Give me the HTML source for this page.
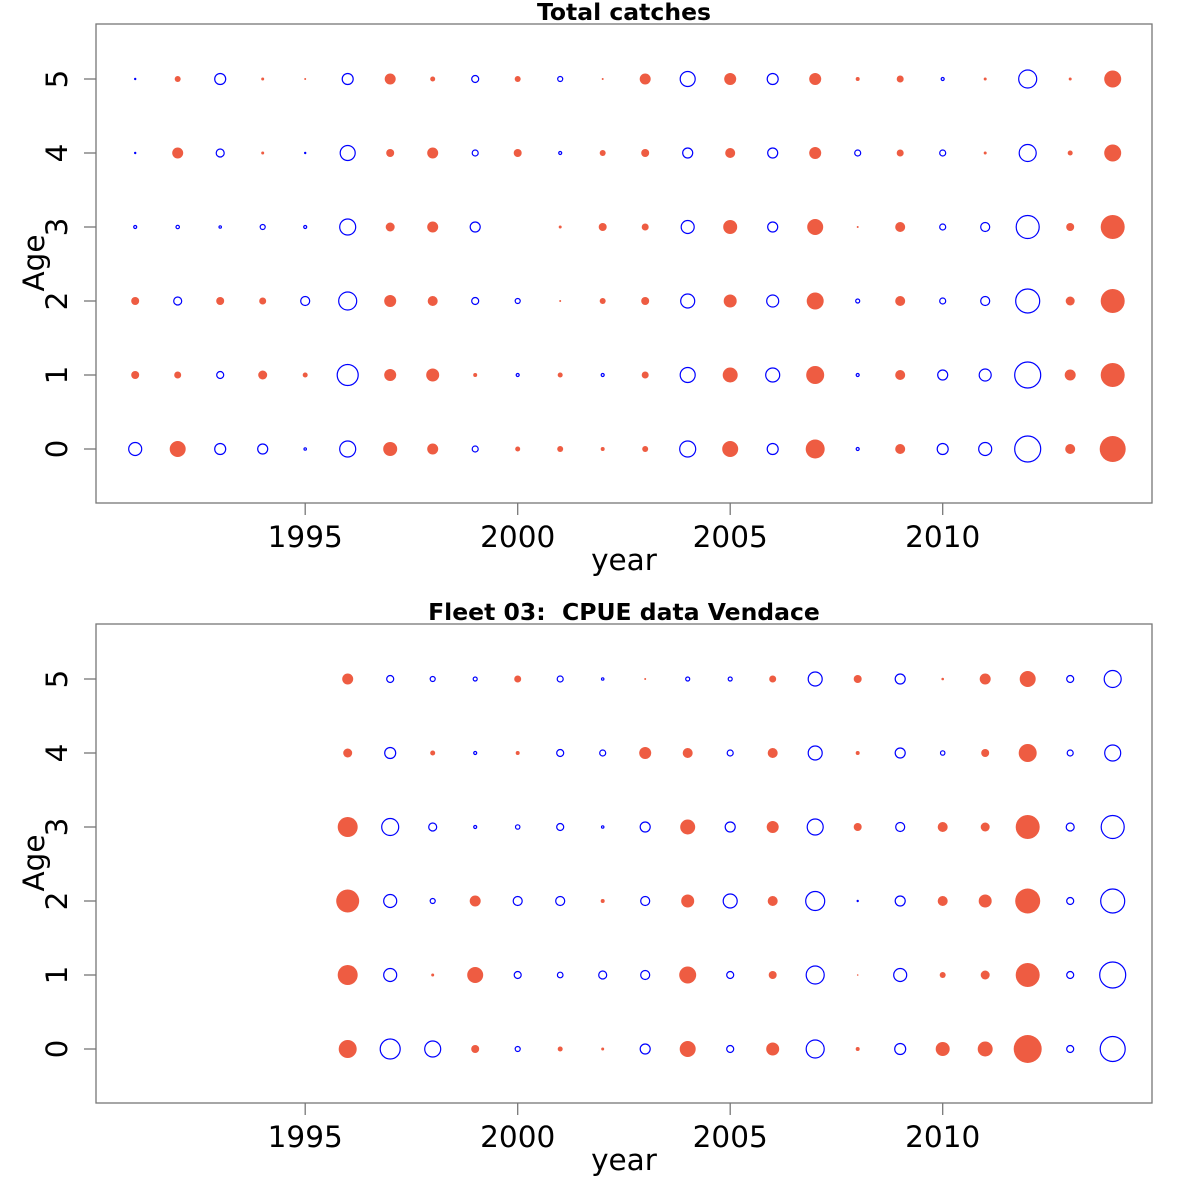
<!DOCTYPE html>
<html><head><meta charset="utf-8"><style>
html,body{margin:0;padding:0;background:#fff;}
svg{display:block;font-family:"DejaVu Sans","Liberation Sans",sans-serif;}
text{white-space:pre;}
</style></head><body>
<svg id="chart" width="1200" height="1200" viewBox="0 0 1200 1200" xmlns="http://www.w3.org/2000/svg"></svg>
<script>
const xTicks = [1995, 2000, 2005, 2010];
const ageTicks = [0, 1, 2, 3, 4, 5];
// Panel 1: Total catches, years 1991..2014 ; values = signed bubble size (positive = red filled, negative = blue open)
const years1 = [1991,1992,1993,1994,1995,1996,1997,1998,1999,2000,2001,2002,2003,2004,2005,2006,2007,2008,2009,2010,2011,2012,2013,2014];
const p1age0 = [-7,8,-6,-5.5,-1.7,-8.5,7,5.5,-3.5,2.5,3,2,3,-8.5,8,-6,9.5,-2,5,-6,-7,-13.5,5,13];
const p1age1 = [4,3.5,-4,4.5,2.5,-11,6,6.5,2,-2,2.5,-2,3.5,-8,7.5,-7.5,9,-2,5,-5.5,-6.5,-13.5,5.5,12];
const p1age2 = [4,-4.5,4,3.5,-5,-9.5,6,5,-4,-3,1,3,4,-7.5,6.5,-6.5,8.5,-2.5,5,-3.5,-5,-12.5,4.5,12];
const p1age3 = [-2,-2.2,-1.7,-3,-2,-8.5,4.5,5.5,-5.5,0,1.5,4,3.5,-7,7,-5.5,8,1,5,-3.5,-5,-12,4,12];
const p1age4 = [-0.8,5.5,-4.5,1.5,-1,-8,4,5.5,-3.5,4,-2,3,4,-5.5,5,-5.5,6,-3.5,3.5,-3.5,1.5,-9,2.5,8.5];
const p1age5 = [-1,3,-6,1.5,1,-6,5.5,2.5,-4,3,-3,1,5.5,-8,6,-6,6,2,3.5,-2,1.5,-9.5,1.5,8.5];
// Panel 2: Fleet 03 CPUE, years 1996..2014
const years2 = [1996,1997,1998,1999,2000,2001,2002,2003,2004,2005,2006,2007,2008,2009,2010,2011,2012,2013,2014];
const p2age0 = [9,-10.5,-8.5,4,-3,2.5,1.5,-5.5,8,-4,6.5,-9.5,2,-6,7,7.5,14,-4,-13];
const p2age1 = [10,-7,1.5,8,-4,-3.3,-4.5,-5,8.5,-4,4,-9.5,0.8,-7,3,4.5,12,-4,-13.5];
const p2age2 = [11.5,-7,-3,5.5,-5,-5,2,-5,6.5,-7.5,5,-10,-1,-5.5,5,6.5,12.5,-4,-12.5];
const p2age3 = [10,-9,-4.5,-2,-2.7,-4,-1.7,-5.5,7.5,-5.5,6,-8.5,4,-5,5,4.5,12,-4.5,-12];
const p2age4 = [4.5,-6,2.5,-2,2,-4,-3.5,6,5,-3.5,5,-7.5,2,-5.5,-2.7,4,9,-3.5,-8.5];
const p2age5 = [5.5,-4,-3,-2.5,3.5,-3.5,-1.7,1,-2.5,-2.5,3.5,-7.5,4,-5.5,1.3,5.5,8,-4,-9];

const NS = "http://www.w3.org/2000/svg";
const svg = document.getElementById('chart');
function mk(tag, attrs, parent) {
  const e = document.createElementNS(NS, tag);
  for (const k in attrs) e.setAttribute(k, attrs[k]);
  (parent || svg).appendChild(e);
  return e;
}
function panel(top, title, years, rows, key) {
  const L = 96, R = 1152, T = top, B = top + 479;
  const xs = y => 135.2 + (y - 1991) * 42.5;
  const ys = a => (T + 425) - a * 74;
  const g = mk('g', {});
  
  
  const box = mk('rect', {x: L, y: T, width: R - L, height: B - T, fill: 'none', stroke: '#777', 'stroke-width': 1.3}, g);
  
  
  const t = mk('text', {x: 624, y: T - 4, 'text-anchor': 'middle', 'font-size': 23.5, 'font-weight': 'bold'}, g);
  t.textContent = title;
  
  
  xTicks.forEach(v => {
    const x = xs(v);
    const tk = mk('line', {x1: x, x2: x, y1: B, y2: B + 12, stroke: '#777', 'stroke-width': 1.3}, g);
    
    
    const lb = mk('text', {x: x, y: B + 44, 'text-anchor': 'middle', 'font-size': 29.5}, g);
    lb.textContent = v;
    
    
  });
  const xt = mk('text', {x: 624, y: B + 67, 'text-anchor': 'middle', 'font-size': 29.5}, g);
  xt.textContent = 'year';
  
  
  ageTicks.forEach(a => {
    const y = ys(a);
    const tk = mk('line', {x1: L - 12, x2: L, y1: y, y2: y, stroke: '#777', 'stroke-width': 1.3}, g);
    
    
    const lb = mk('text', {x: 0, y: 0, 'text-anchor': 'middle', 'font-size': 29.5, transform: 'translate(67,' + y + ') rotate(-90)'}, g);
    lb.textContent = a;
    
    
  });
  const yt = mk('text', {x: 0, y: 0, 'text-anchor': 'middle', 'font-size': 29.5, transform: 'translate(44,' + (T + 239) + ') rotate(-90)'}, g);
  yt.textContent = 'Age';
  
  
  rows.forEach((vals, a) => {
    vals.forEach((v, i) => {
      if (v === 0) return;
      const r = Math.abs(v);
      let c;
      if (v > 0) c = mk('circle', {cx: xs(years[i]), cy: ys(a), r: r, fill: '#EE5C42'}, g);
      else c = mk('circle', {cx: xs(years[i]), cy: ys(a), r: Math.max(r - 0.5, 0.6), fill: 'none', stroke: '#0000FF', 'stroke-width': 1.2}, g);
      
      
    });
  });
}
panel(24, 'Total catches', years1, [p1age0, p1age1, p1age2, p1age3, p1age4, p1age5], 'total-catches');
panel(624, 'Fleet 03:  CPUE data Vendace', years2, [p2age0, p2age1, p2age2, p2age3, p2age4, p2age5], 'fleet-03');
</script>
</body></html>
